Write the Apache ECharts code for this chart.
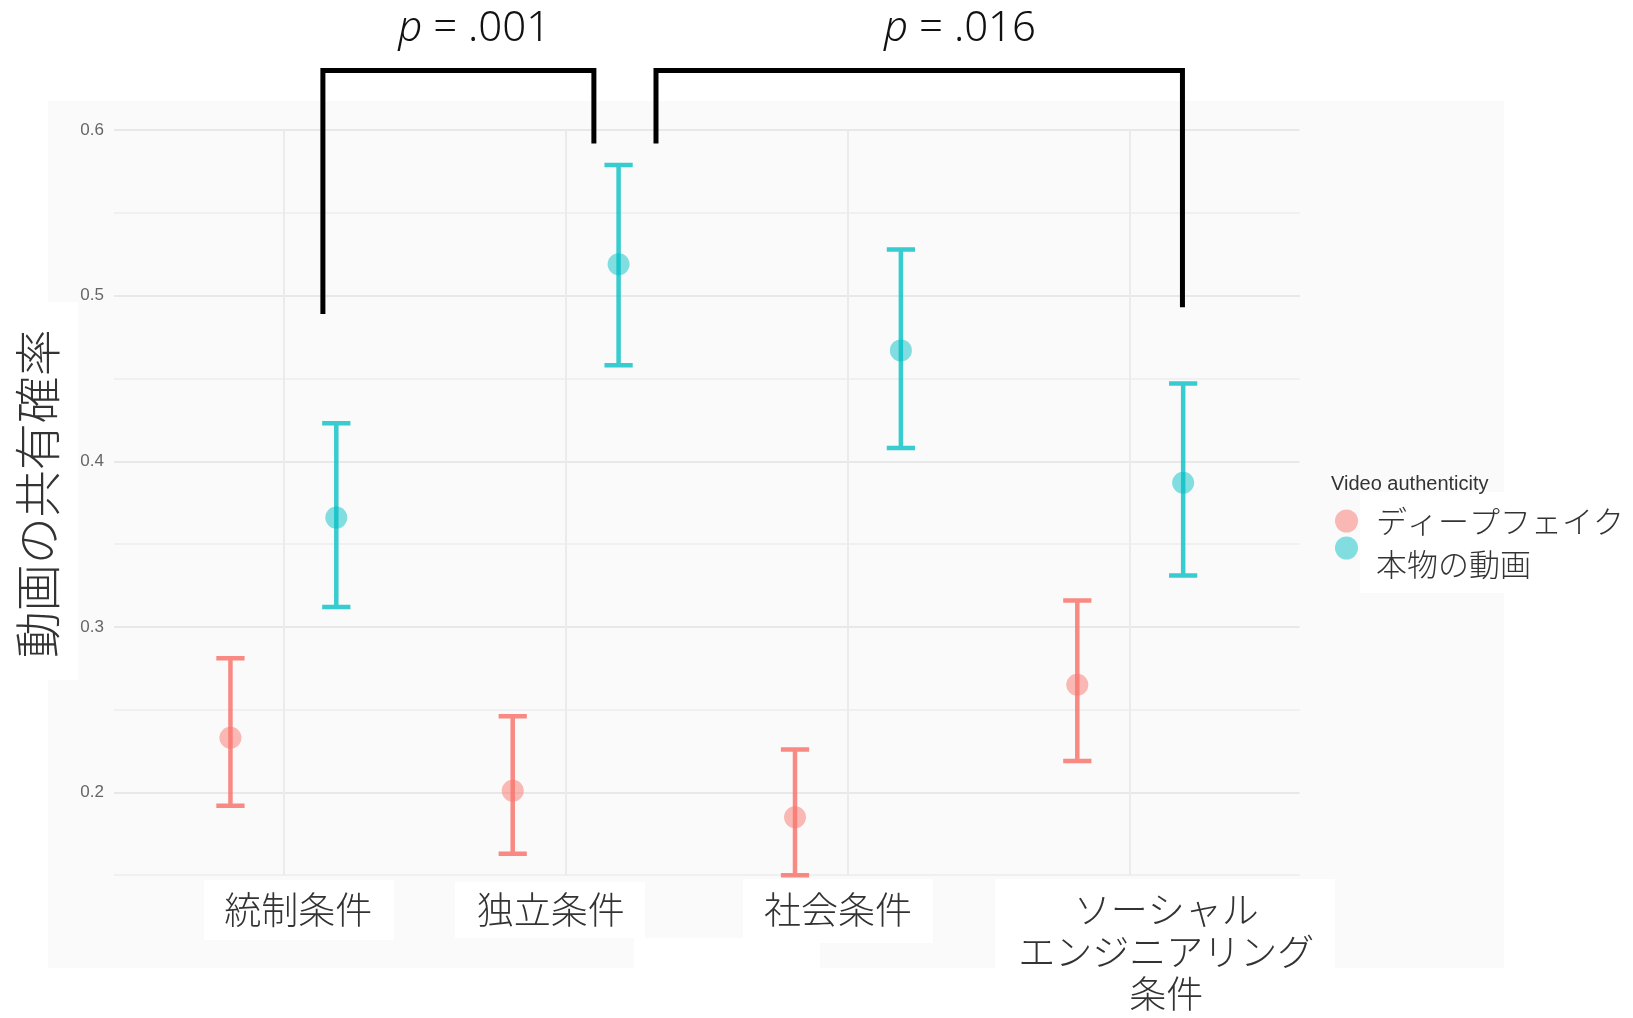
<!DOCTYPE html>
<html>
<head>
<meta charset="utf-8">
<script src="https://cdn.jsdelivr.net/npm/echarts@6/dist/echarts.min.js"></script>
<style>
html,body{margin:0;padding:0;background:#fff;}
#main{width:1633px;height:1018px;}
</style>
</head>
<body>
<div id="main"></div>
<script>
// ---------- data ----------
const categories = ['統制条件', '独立条件', '社会条件', 'ソーシャル\nエンジニアリング\n条件'];
const seriesNames = ['ディープフェイク', '本物の動画'];
const deepfakeMean  = [0.233, 0.201, 0.185, 0.265];
const deepfakeLower = [0.192, 0.163, 0.150, 0.219];
const deepfakeUpper = [0.281, 0.246, 0.226, 0.316];
const authenticMean  = [0.366, 0.519, 0.467, 0.387];
const authenticLower = [0.312, 0.458, 0.408, 0.331];
const authenticUpper = [0.423, 0.579, 0.528, 0.447];
const yTickLabels = [0.2, 0.3, 0.4, 0.5, 0.6];
const legendTitle = 'Video authenticity';
const yAxisTitle = '動画の共有確率';
// significance brackets (data space)
const pValues      = ['.001', '.016'];
const bracketLeftX  = [1.14, 2.32];
const bracketRightX = [2.10, 4.185];
const bracketLeftY  = [0.489, 0.592];
const bracketRightY = [0.592, 0.493];
const bracketTopY   = [0.636, 0.636];
const pLabelX = [1.676, 3.397];
const pLabelY = [0.661, 0.661];

// ---------- layout / style ----------
const JP = '"Noto Sans CJK JP", "Noto Sans", sans-serif';
const DODGE = 0.1875;
const CAP = 0.1;
const labelShift = [15, -15, -10, 36]; // px shift of each category label
const lineRed = 'rgba(248,118,109,0.85)', lineTeal = 'rgba(0,191,196,0.78)';
const ptRed = 'rgba(248,118,109,0.62)', ptTeal = 'rgba(0,191,196,0.6)';

function pts(mean, off) { return mean.map((v, i) => [i + 1 + off, v]); }
function bars(lo, hi, off) { return lo.map((v, i) => [i + 1 + off, v, hi[i]]); }

function errRender(color) {
  return function (params, api) {
    const x = api.value(0);
    const a = api.coord([x, api.value(1)]);
    const b = api.coord([x, api.value(2)]);
    const h = api.size([CAP, 0])[0] / 2;
    const d = `M${a[0]},${a[1]}L${b[0]},${b[1]}M${b[0]-h},${b[1]}L${b[0]+h},${b[1]}M${a[0]-h},${a[1]}L${a[0]+h},${a[1]}`;
    return { type: 'path', shape: { pathData: d }, style: { stroke: color, lineWidth: 4.5, fill: null } };
  };
}

const rich = { t: { fontSize: 37, lineHeight: 42, color: '#333', fontFamily: JP, fontWeight: 300 } };
labelShift.forEach((s, i) => { rich['sp' + i] = { width: Math.abs(s) * 2, fontSize: 37, lineHeight: 42 }; });

function catLabel(v) {
  const i = Math.round(v) - 1;
  if (i < 0 || i >= categories.length) return '';
  const s = labelShift[i];
  return categories[i].split('\n').map(line =>
    s >= 0 ? `{sp${i}| }{t|${line}}` : `{t|${line}}{sp${i}| }`).join('\n');
}

const chart = echarts.init(document.getElementById('main'));
const option = {
  backgroundColor: '#ffffff',
  animation: false,
  title: {
    text: legendTitle, left: 1331, top: 474, padding: 0,
    textStyle: { fontSize: 20, fontWeight: 'normal', color: '#333', fontFamily: '"Liberation Sans", Arial, sans-serif' }
  },
  legend: [
    { data: [{ name: seriesNames[0], icon: 'circle' }], left: 1335, top: 505.5, itemWidth: 23, itemHeight: 23,
      selectedMode: false, padding: 0,
      textStyle: { fontSize: 31, color: '#333', fontFamily: JP, fontWeight: 300, padding: [0, 0, 0, 13] } },
    { data: [{ name: seriesNames[1], icon: 'circle' }], left: 1335, top: 536.5, itemWidth: 23, itemHeight: 23,
      selectedMode: false, padding: 0,
      formatter: name => '{b|' + name + '}',
      textStyle: { fontSize: 31, color: '#333', fontFamily: JP, fontWeight: 300,
        rich: { b: { fontSize: 31, color: '#333', fontFamily: JP, fontWeight: 300, padding: [32, 0, 0, 13] } } } }
  ],
  graphic: [
    { type: 'rect', z: -20, shape: { x: 48, y: 101, width: 1456, height: 867 }, style: { fill: '#fafafa' }, silent: true },
    { type: 'rect', z: -19, shape: { x: 0, y: 302, width: 78, height: 378 }, style: { fill: '#ffffff' }, silent: true },
    { type: 'rect', z: -19, shape: { x: 204, y: 880, width: 190, height: 60 }, style: { fill: '#ffffff' }, silent: true },
    { type: 'rect', z: -19, shape: { x: 455, y: 882, width: 190, height: 56 }, style: { fill: '#ffffff' }, silent: true },
    { type: 'rect', z: -19, shape: { x: 743, y: 879, width: 190, height: 64 }, style: { fill: '#ffffff' }, silent: true },
    { type: 'rect', z: -19, shape: { x: 995, y: 879, width: 340, height: 139 }, style: { fill: '#ffffff' }, silent: true },
    { type: 'rect', z: -19, shape: { x: 634, y: 938, width: 186, height: 31 }, style: { fill: '#ffffff' }, silent: true },
    { type: 'rect', z: -19, shape: { x: 1360, y: 492, width: 273, height: 101 }, style: { fill: '#ffffff' }, silent: true }
  ],
  grid: { left: 114, right: 333.4, top: 130.2, bottom: 142.8, containLabel: false },
  xAxis: {
    type: 'value', min: 0.4, max: 4.6,
    axisLine: { show: false }, axisTick: { show: false }, splitLine: { show: false },
    axisLabel: { customValues: [1, 2, 3, 4], formatter: catLabel, rich: rich, margin: 14, align: 'center' }
  },
  yAxis: {
    type: 'value', min: 0.15, max: 0.6, interval: 0.05,
    name: yAxisTitle, nameLocation: 'middle', nameRotate: 90, nameGap: 53,
    nameTextStyle: { fontSize: 47, lineHeight: 47, color: '#333', fontFamily: JP, fontWeight: 300, padding: [0, 0, 0, 18] },
    axisLine: { show: false }, axisTick: { show: false },
    axisLabel: {
      margin: 10, fontSize: 17, color: '#666', fontFamily: '"Liberation Sans", Arial, sans-serif',
      formatter: v => {
        const hit = yTickLabels.find(t => Math.abs(t - v) < 1e-6);
        return hit !== undefined ? hit.toFixed(1) : '';
      }
    },
    splitLine: { lineStyle: { color: ['#f0f0f0', '#e8e8e8'], width: 2 } }
  },
  series: [
    { name: seriesNames[0], type: 'scatter', z: 4, symbolSize: 22, data: pts(deepfakeMean, -DODGE),
      itemStyle: { color: ptRed },
      markLine: { silent: true, symbol: 'none', label: { show: false }, animation: false,
        lineStyle: { color: '#ebebeb', width: 2, type: 'solid' },
        data: categories.map((c, i) => ({ xAxis: i + 1 })) } },
    { name: seriesNames[1], type: 'scatter', z: 4, symbolSize: 22, data: pts(authenticMean, DODGE),
      itemStyle: { color: ptTeal } },
    { name: seriesNames[0], type: 'custom', z: 3, renderItem: errRender(lineRed),
      itemStyle: { color: ptRed }, data: bars(deepfakeLower, deepfakeUpper, -DODGE) },
    { name: seriesNames[1], type: 'custom', z: 3, renderItem: errRender(lineTeal),
      itemStyle: { color: ptTeal }, data: bars(authenticLower, authenticUpper, DODGE) },
    { name: 'brackets', type: 'custom', z: 5, clip: false, silent: true,
      data: pValues.map((p, i) => [bracketLeftX[i], bracketRightX[i], bracketLeftY[i], bracketRightY[i], bracketTopY[i], pLabelX[i], pLabelY[i]]),
      renderItem: function (params, api) {
        const i = params.dataIndex;
        const lx = api.value(0), rx = api.value(1), ly = api.value(2), ry = api.value(3), ty = api.value(4);
        const p1 = api.coord([lx, ly]), p2 = api.coord([lx, ty]), p3 = api.coord([rx, ty]), p4 = api.coord([rx, ry]);
        const tp = api.coord([api.value(5), api.value(6)]);
        return { type: 'group', children: [
          { type: 'polyline', shape: { points: [p1, p2, p3, p4] },
            style: { stroke: '#000', lineWidth: 5, fill: null, lineJoin: 'miter' } },
          { type: 'text', x: tp[0], y: tp[1],
            style: { text: '{i|p} = ' + pValues[i], fontSize: 42, fontFamily: '"Noto Sans", sans-serif', fontWeight: 300,
              fill: '#111', align: 'center', verticalAlign: 'middle',
              rich: { i: { fontStyle: 'italic', fontSize: 42, fontFamily: '"Noto Sans", sans-serif', fontWeight: 300, fill: '#111' } } } }
        ] };
      } }
  ]
};
chart.setOption(option);
</script>
</body>
</html>
